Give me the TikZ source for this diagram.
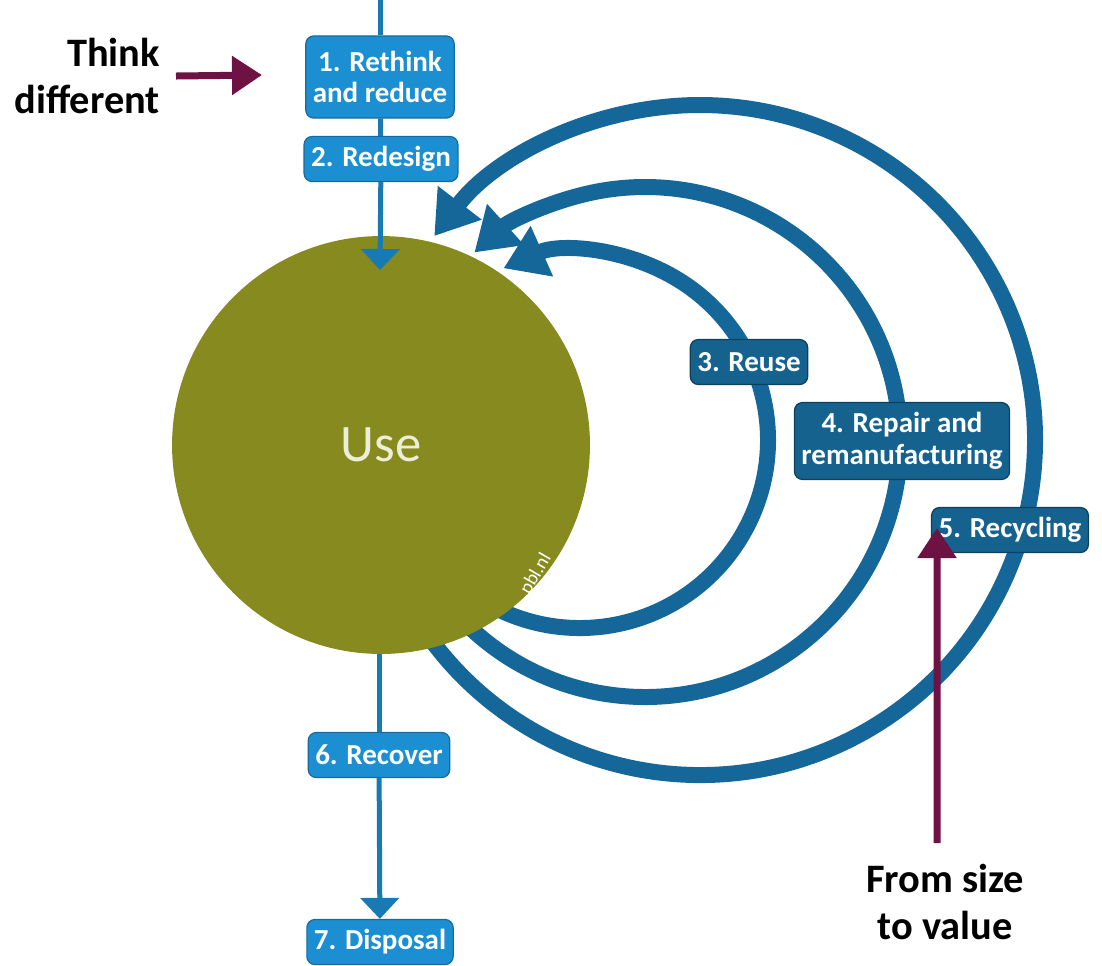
\documentclass[tikz,border=0pt]{standalone}
\usepackage{fontspec}
\setmainfont{Carlito}
\usetikzlibrary{arrows.meta,calc,backgrounds}

\definecolor{useolive}{HTML}{878A1F}
\definecolor{usetext}{HTML}{EEEED8}
\definecolor{lightblue}{HTML}{1C8FD3}
\definecolor{darkblue}{HTML}{15628F}
\definecolor{loopblue}{HTML}{15679A}
\definecolor{plum}{HTML}{6E1244}

\tikzset{
  lightbox/.style={draw=lightblue!75!black, fill=lightblue, text=white, rounded corners=0.16cm,
    font=\bfseries\fontsize{16.5}{18}\selectfont, align=center, inner xsep=0.14cm, inner ysep=0.12cm,
    minimum height=0.9cm, line width=0.7pt},
  darkbox/.style={lightbox, draw=darkblue!65!black, fill=darkblue},
  flow/.style={draw=lightblue!85!black, line width=0.1cm},
  flowtip/.style={flow, -{Triangle[length=0.42cm,width=0.76cm]}},
  loop/.style={draw=loopblue, line width=0.32cm, -{Triangle[length=0.84cm,width=1.05cm]}},
  hint/.style={draw=plum, line width=0.14cm, -{Triangle[length=0.6cm,width=0.75cm]}},
  remark/.style={font=\bfseries\fontsize{23}{26.5}\selectfont}
}

\begin{document}
\begin{tikzpicture}[x=0.02cm,y=0.02cm]
\useasboundingbox (0,0) rectangle (1102,-965);

% the product in use
\node[circle, fill=useolive, minimum size=8.36cm, text=usetext, font=\fontsize{30}{34}\selectfont] (use) at (381,-445) {Use};
\node[rotate=60, text=white, font=\fontsize{11}{12}\selectfont] (pbl) at (536,-574) {pbl.nl};

% loops back into use
\coordinate (reusec) at (580,-440);
\coordinate (repairc) at (645,-442);
\coordinate (recyclec) at (700,-440);
\begin{scope}[on background layer]
\draw[loop] ($(reusec)+(238:188)$) arc[start angle=238, end angle=474, radius=188];
\draw[loop] ($(repairc)+(221:255)$) arc[start angle=221, end angle=492, radius=255];
\draw[loop] ($(recyclec)+(212:335)$) arc[start angle=212, end angle=502.5, radius=335];
\end{scope}

\node[darkbox] (reuse) at (749,-362) {3. Reuse};
\node[darkbox, inner ysep=0.2cm] (repair) at (902,-441) {4. Repair and\\remanufacturing};
\node[darkbox] (recycling) at (1010,-530) {5. Recycling};

% straight line through
\coordinate (entry) at (380,0);
\coordinate (usetop) at (380,-270);
\coordinate (usebottom) at (379,-628);
\node[lightbox, inner ysep=0.3cm] (rethink) at (380,-77) {1. Rethink\\and reduce};
\node[lightbox] (redesign) at (381,-159) {2. Redesign};
\node[lightbox] (recover) at (379,-755) {6. Recover};
\node[lightbox] (disposal) at (380,-942) {7. Disposal};
\begin{scope}[on background layer]
\draw[flow] (entry) -- (rethink);
\draw[flow] (rethink) -- (redesign);
\draw[flow] (usebottom) -- (recover);
\end{scope}
\draw[flowtip] (redesign) -- (usetop);
\draw[flowtip] (recover) -- (disposal);

% hints
\node[remark, align=right, anchor=east] (think) at (166,-76) {Think\\different};
\coordinate (thinktip) at (262,-75);
\draw[hint] ([xshift=0.2cm]think.east) -- (thinktip);
\node[remark, align=center] (value) at (945,-902) {From size\\to value};
\coordinate (valuetip) at (937,-528);
\draw[hint] ([xshift=-0.16cm,yshift=0.3cm]value.north) -- (valuetip);
\end{tikzpicture}
\end{document}
